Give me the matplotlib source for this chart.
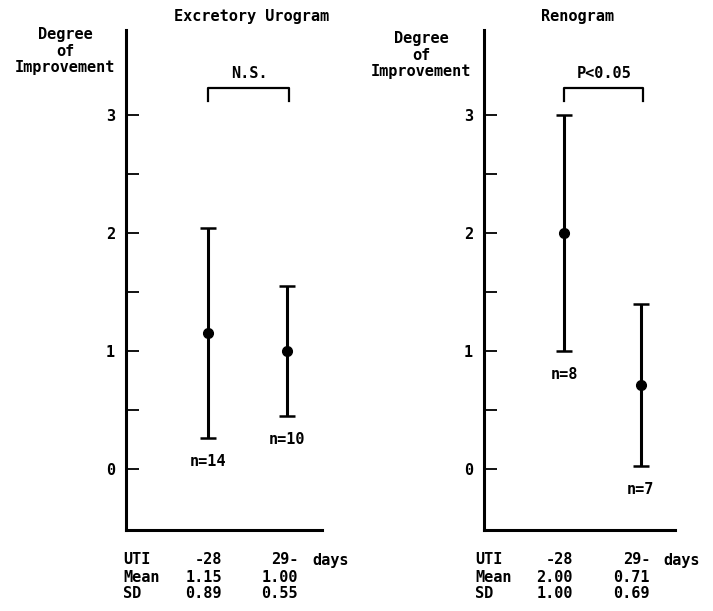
import matplotlib
matplotlib.use("Agg")
from matplotlib import pyplot as plt
from matplotlib.ticker import FixedLocator

plt.rcParams['font.family'] = ['DejaVu Sans Mono']
plt.rcParams['font.weight'] = 'bold'

W, H = 713, 611

groups = ["-28", "29-"]
positions = [1, 2]

uro_mean = [1.15, 1.00]
uro_sd = [0.89, 0.55]
uro_n = [14, 10]

reno_mean = [2.00, 0.71]
reno_sd = [1.00, 0.69]
reno_n = [8, 7]

panels = [
    dict(title="Excretory Urogram", mean=uro_mean, sd=uro_sd, n=uro_n,
         sig="N.S.", left=126, right=322, title_x=252, ylab_x=65, ylab_y=51,
         table_x=(123, 222, 298, 312)),
    dict(title="Renogram", mean=reno_mean, sd=reno_sd, n=reno_n,
         sig="P<0.05", left=484, right=675, title_x=577, ylab_x=421, ylab_y=55,
         table_x=(475, 573, 650, 663)),
]

fig = plt.figure(figsize=(W / 100, H / 100), dpi=100)


def fx(x):
    return x / W


def fy(y):
    return 1 - y / H


FS = 11

for p in panels:
    ax = fig.add_axes([fx(p["left"]), fy(530), (p["right"] - p["left"]) / W, 500 / H])
    ax.set_xlim(-0.05, 2.45)
    ax.set_ylim(-0.52, 3.72)
    for s in ["top", "right"]:
        ax.spines[s].set_visible(False)
    for s in ["left", "bottom"]:
        ax.spines[s].set_linewidth(2.2)
    ax.set_xticks([])
    ax.yaxis.set_major_locator(FixedLocator([0, 1, 2, 3]))
    ax.yaxis.set_minor_locator(FixedLocator([0.5, 1.5, 2.5]))
    ax.tick_params(axis="y", which="both", direction="in", length=9, width=1.3,
                   pad=8, labelsize=FS)
    ax.set_yticklabels(["0", "1", "2", "3"], fontweight="bold")

    ax.errorbar(positions, p["mean"], yerr=p["sd"], fmt="o", color="black",
                ms=7, elinewidth=2.2, capsize=6, capthick=1.8)
    for x, m, s, n in zip(positions, p["mean"], p["sd"], p["n"]):
        ax.text(x, m - s - 0.2, f"n={n}", ha="center", va="center", fontsize=FS)

    # significance bracket
    ax.plot([1.0, 1.0, 2.03, 2.03], [3.12, 3.23, 3.23, 3.12], color="black",
            lw=1.6, clip_on=False)
    ax.text(1.52, 3.35, p["sig"], ha="center", va="center", fontsize=FS)

    fig.text(fx(p["title_x"]), fy(17), p["title"], ha="center", va="center", fontsize=FS)
    fig.text(fx(p["ylab_x"]), fy(p["ylab_y"]), "Degree\nof\nImprovement",
             ha="center", va="center", fontsize=FS, linespacing=1.1,
             multialignment="center")

    x_lab, x_c1, x_c2, x_days = p["table_x"]
    rows = [("UTI", groups[0], groups[1]),
            ("Mean", f"{p['mean'][0]:.2f}", f"{p['mean'][1]:.2f}"),
            ("SD", f"{p['sd'][0]:.2f}", f"{p['sd'][1]:.2f}")]
    for i, (lab, c1, c2) in enumerate(rows):
        y = fy(560 + 17 * i)
        fig.text(fx(x_lab), y, lab, ha="left", va="center", fontsize=FS)
        fig.text(fx(x_c1), y, c1, ha="right", va="center", fontsize=FS)
        fig.text(fx(x_c2), y, c2, ha="right", va="center", fontsize=FS)
    fig.text(fx(x_days), fy(560), "days", ha="left", va="center", fontsize=FS)

fig.savefig("out.png", dpi=100)
